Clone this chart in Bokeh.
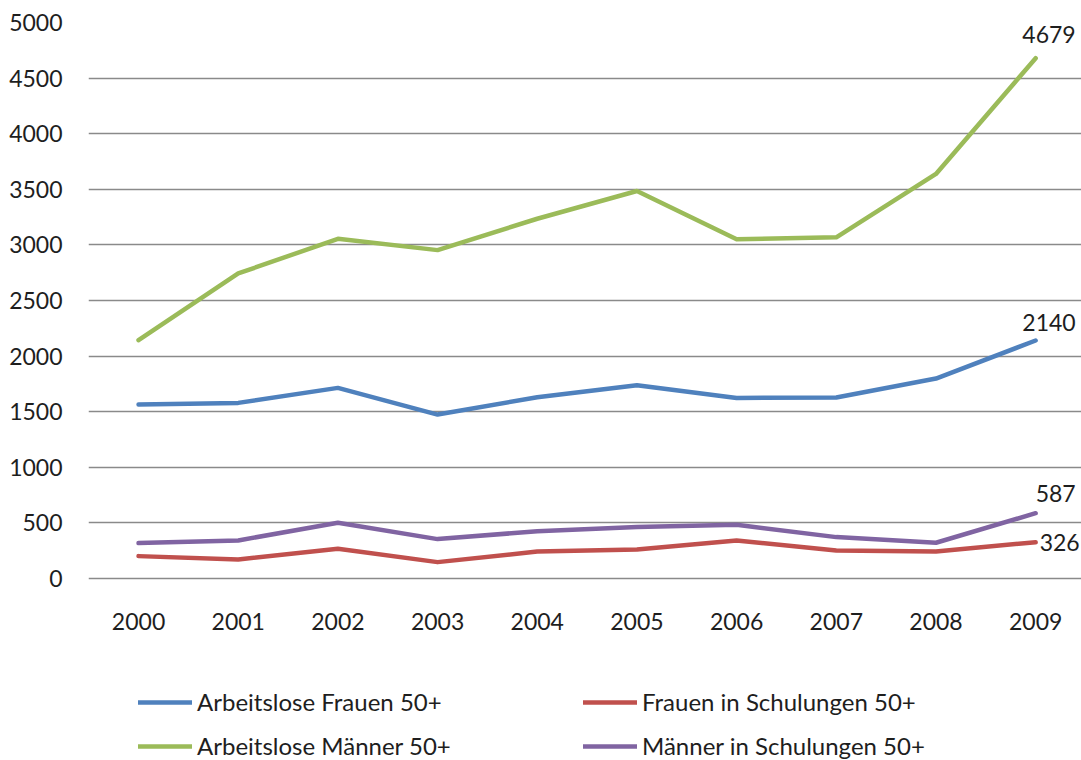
from bokeh.plotting import figure
from bokeh.models import Range1d, FixedTicker, Legend, LegendItem, ColumnDataSource
from bokeh.embed import file_html
from bokeh.resources import INLINE
from bokeh.core.properties import value

years = [2000, 2001, 2002, 2003, 2004, 2005, 2006, 2007, 2008, 2009]
arbeitslose_frauen = [1564, 1579, 1714, 1474, 1630, 1738, 1624, 1627, 1798, 2140]
frauen_schulungen = [201, 171, 267, 147, 242, 261, 342, 252, 243, 326]
arbeitslose_maenner = [2143, 2743, 3055, 2953, 3235, 3485, 3050, 3068, 3638, 4679]
maenner_schulungen = [318, 342, 501, 354, 425, 462, 483, 372, 321, 587]
series_names = ["Arbeitslose Frauen 50+", "Frauen in Schulungen 50+",
                "Arbeitslose Männer 50+", "Männer in Schulungen 50+"]
y_ticks = [0, 500, 1000, 1500, 2000, 2500, 3000, 3500, 4000, 4500, 5000]

FONT = "Lato"
TXT = "#1E1E1E"
COLORS = ["#4F81BD", "#C0504D", "#9BBB59", "#8064A2"]

# frame spans from the 5000 gridline down to the bottom of the picture,
# so that the year labels and the legend can sit inside it
p = figure(width=1081, height=760, output_backend="svg", toolbar_location=None,
           x_range=Range1d(1999.498, 2009.46), y_range=Range1d(-1637, 5000),
           x_axis_location=None,
           min_border_left=88, min_border_right=0, min_border_top=22, min_border_bottom=0)
p.outline_line_color = None
p.background_fill_color = "white"
p.border_fill_color = "white"

p.xgrid.grid_line_color = None
p.ygrid.ticker = FixedTicker(ticks=y_ticks)
p.ygrid.grid_line_color = "#8A8A8A"
p.ygrid.grid_line_width = 1.3

p.yaxis.ticker = FixedTicker(ticks=y_ticks)
ax = p.yaxis[0]
ax.axis_line_color = None
ax.major_tick_line_color = None
ax.minor_tick_line_color = None
ax.major_tick_out = 0
ax.major_tick_in = 0
ax.major_label_text_font = FONT
ax.major_label_text_font_size = "23px"
ax.major_label_text_color = TXT
ax.major_label_standoff = 26

# year labels under the zero line
p.text(x=years, y=[0] * len(years), text=[str(y) for y in years], y_offset=43,
       text_align="center", text_baseline="middle", text_font=value(FONT),
       text_font_size="23px", text_color=TXT)

all_series = [arbeitslose_frauen, frauen_schulungen, arbeitslose_maenner, maenner_schulungen]
renderers = []
for vals, col in zip(all_series, COLORS):
    r = p.line(years, vals, line_color=col, line_width=4.5, line_join="round", line_cap="round")
    renderers.append(r)

# end labels
lab_src = ColumnDataSource(dict(
    x=[years[-1]] * 4,
    y=[s[-1] for s in all_series],
    text=[str(s[-1]) for s in all_series],
    xo=[40, 4, 40, 40],
    yo=[-18, 0, -24, -20],
    align=["right", "left", "right", "right"],
))
p.text(x="x", y="y", text="text", source=lab_src, x_offset="xo", y_offset="yo",
       text_align="align", text_baseline="middle", text_font=value(FONT),
       text_font_size="23px", text_color=TXT)

def make_legend(items, loc):
    lg = Legend(items=items, location=loc, orientation="vertical")
    lg.padding = 0
    lg.margin = 0
    lg.spacing = 15
    lg.label_height = 20
    lg.glyph_height = 20
    lg.glyph_width = 54
    lg.label_standoff = 5
    lg.border_line_color = None
    lg.background_fill_alpha = 0
    lg.label_text_font = FONT
    lg.label_text_font_size = "24px"
    lg.label_text_color = TXT
    return lg

legA = make_legend([LegendItem(label=series_names[0], renderers=[renderers[0]]),
                    LegendItem(label=series_names[2], renderers=[renderers[2]])], (50, 0))
legB = make_legend([LegendItem(label=series_names[1], renderers=[renderers[1]]),
                    LegendItem(label=series_names[3], renderers=[renderers[3]])], (495, 0))
p.add_layout(legA)
p.add_layout(legB)

open("out.html", "w").write(file_html(p, INLINE))
